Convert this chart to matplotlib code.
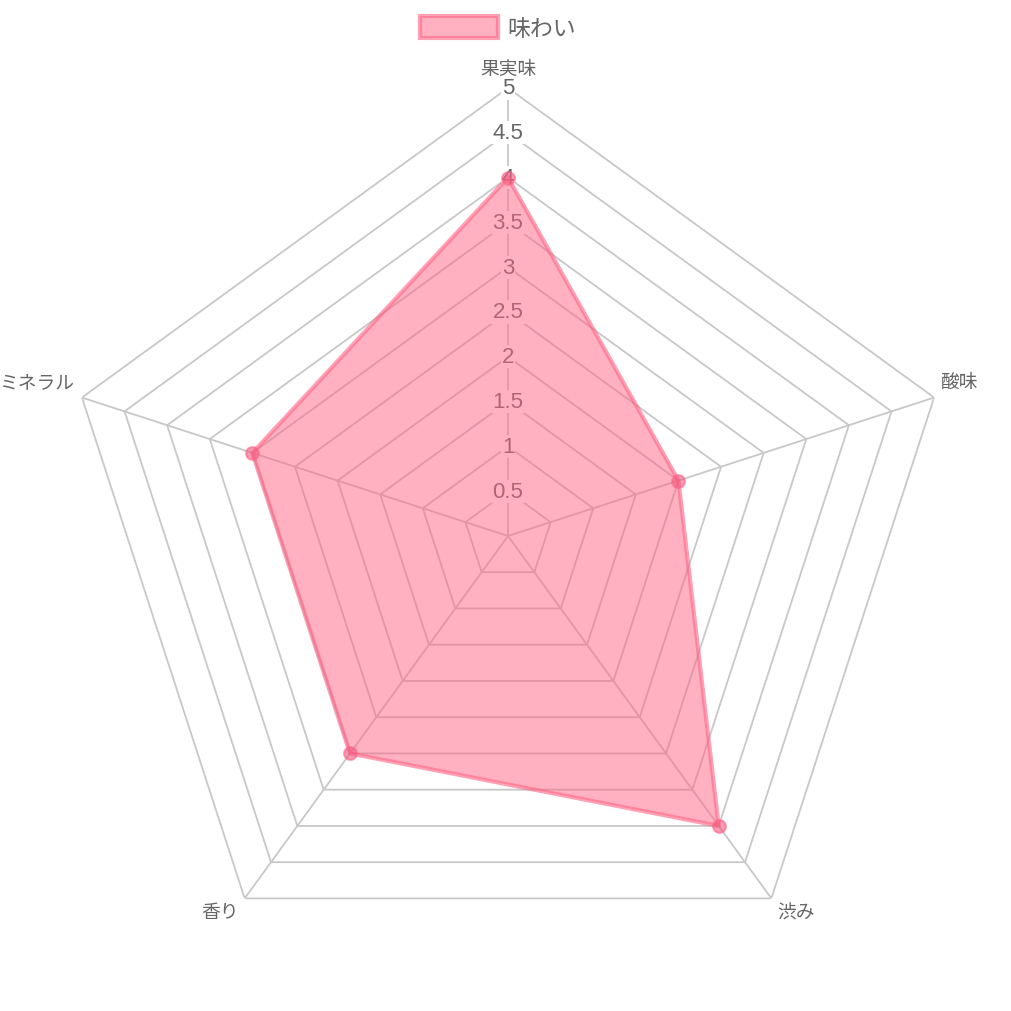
import numpy as np
from matplotlib import pyplot as plt
from matplotlib.patches import Patch

plt.rcParams['font.family'] = ['Liberation Sans', 'Noto Sans CJK JP', 'DejaVu Sans']

# data
categories = ['果実味', '酸味', '渋み', '香り', 'ミネラル']
values = [4, 2, 4, 3, 3]
series_name = '味わい'
tick_values = [0.5, 1, 1.5, 2, 2.5, 3, 3.5, 4, 4.5, 5]
tick_labels = ['0.5', '1', '1.5', '2', '2.5', '3', '3.5', '4', '4.5', '5']

pink = (1.0, 99 / 255, 132 / 255)
px = 72 / 100  # pixels -> points at dpi 100

fig = plt.figure(figsize=(10.12, 10.12), dpi=100)
ax = fig.add_axes([0.0593, 0.0267, 0.8854, 0.8854], projection='polar')
ax.set_theta_offset(np.pi / 2)
ax.set_theta_direction(-1)
ax.set_ylim(0, 5)
ax.grid(False)
ax.set_xticks([])
ax.set_yticks([])
ax.spines['polar'].set_visible(False)
ax.set_facecolor('none')

n = len(categories)
theta = np.arange(n) * 2 * np.pi / n
theta_closed = np.append(theta, theta[0])

# pentagon rings and spokes
for r in tick_values:
    ax.plot(theta_closed, [r] * (n + 1), color='#c8c8c8', lw=1.3, zorder=1)
for t in theta:
    ax.plot([t, t], [0, 5], color='#c8c8c8', lw=1.3, zorder=1)

# tick labels along the top axis
for r, lab in zip(tick_values, tick_labels):
    ax.text(0, r, lab, ha='center', va='center', fontsize=16, color='#666666', zorder=2,
            bbox=dict(boxstyle='square,pad=0.05', fc='white', ec='none'))

# data polygon
vals_closed = values + values[:1]
ax.fill(theta_closed, vals_closed, color=pink, alpha=0.5, lw=0, zorder=3)
ax.plot(theta_closed, vals_closed, color=pink, alpha=0.6, lw=3, zorder=4)
ax.scatter(theta, values, s=85, color=(0.95, 0.35, 0.5), alpha=0.6, edgecolors=pink,
           linewidths=1.5, zorder=5)

# point labels
offsets = [(0, 19, 'center'), (7, 15, 'left'), (6, -14, 'left'), (-6, -14, 'right'), (-8, 15, 'right')]
for t, lab, (dx, dy, ha) in zip(theta, categories, offsets):
    ax.annotate(lab, xy=(t, 5), xytext=(dx * px, dy * px), textcoords='offset points',
                ha=ha, va='center', fontsize=13.5, color='#666666', annotation_clip=False)

handle = Patch(facecolor=(*pink, 0.5), edgecolor=(*pink, 0.6), linewidth=3, label=series_name)
fig.legend(handles=[handle], loc='upper center', bbox_to_anchor=(0.492, 1.004), frameon=False,
           fontsize=16.5, handlelength=3.4, handleheight=1.15, handletextpad=0.4,
           labelcolor='#666666')

fig.savefig('out.png', dpi=100)
